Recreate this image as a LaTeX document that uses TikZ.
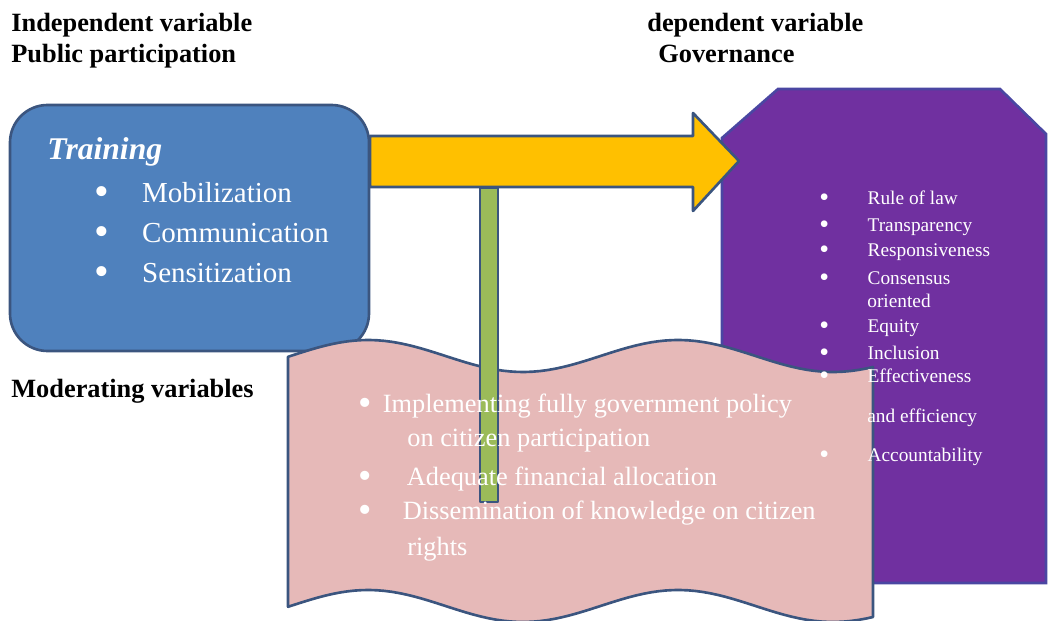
\documentclass[tikz,border=0pt]{standalone}
\usepackage{fontspec}
\setmainfont{Liberation Serif}
\usepackage{graphicx}
\usepackage[HTML]{xcolor}
\usepackage{tikz}
\usetikzlibrary{positioning}

\definecolor{boxblue}{HTML}{4F81BD}
\definecolor{arrowyellow}{HTML}{FFC000}
\definecolor{bargreen}{HTML}{9BBB59}
\definecolor{govpurple}{HTML}{7030A0}
\definecolor{wavepink}{HTML}{E6B9B8}
\definecolor{edgeblue}{HTML}{3B557F}
\definecolor{purpleedge}{HTML}{4A46A2}

\newcommand{\itembullet}[1]{\makebox[#1][l]{\raisebox{-0.08em}{\scalebox{1.45}{\textbullet}}}}

\tikzset{
    heading/.style={anchor=base west, inner sep=0pt, font=\fontsize{15}{18}\selectfont\bfseries},
    trainitem/.style={anchor=base west, inner sep=0pt, text=white, font=\fontsize{16.5}{19}\selectfont},
    waveitem/.style={anchor=base west, inner sep=0pt, text=white, font=\fontsize{15}{18}\selectfont},
    govitem/.style={anchor=base west, inner sep=0pt, text=white, font=\fontsize{11}{13}\selectfont},
    shapeline/.style={draw=edgeblue, line width=1.5pt, line join=round}
}

\begin{document}
\begin{tikzpicture}[x=0.02cm, y=-0.02cm]
    \useasboundingbox (0,0) rectangle (1049,621);

    % Draw shapes
    \draw[draw=purpleedge, line width=1.5pt, fill=govpurple]
        (778,89) -- (1000,89) -- (1046,134) -- (1046,583) -- (722,583) -- (722,138) -- cycle;
    \draw[shapeline, fill=boxblue, rounded corners=0.75cm] (10,105) rectangle (369,351);
    \draw[shapeline, fill=wavepink]
        plot[domain=288:873, samples=80] (\x, {356-16*sin(90+1.1613*(\x-368))})
        -- plot[domain=873:288, samples=80] (\x, {606-16*sin(90+1.1613*(\x-368))}) -- cycle;
    \draw[shapeline, fill=arrowyellow]
        (370,136) -- (693,136) -- (693,113) -- (739,161) -- (693,211) -- (693,187) -- (370,187) -- cycle;
    \draw[shapeline, line width=1.2pt, fill=bargreen] (480,188) rectangle (498,502);

    % Define nodes
    \node[heading] (indep) at (11,32) {Independent variable};
    \node[heading] (public) at (11,63) {Public participation};
    \node[heading] (dep) at (647,32) {dependent variable};
    \node[heading] (gov) at (658,63) {Governance};
    \node[heading] (moder) at (11,398) {Moderating variables};

    \node[anchor=base west, inner sep=0pt, text=white, font=\fontsize{18}{21}\selectfont\bfseries\itshape] (train) at (47,160) {Training};
    \node[trainitem] (mob) at (94,203) {\itembullet{27.2pt}Mobilization};
    \node[trainitem] (comm) at (94,243) {\itembullet{27.2pt}Communication};
    \node[trainitem] (sens) at (94,283) {\itembullet{27.2pt}Sensitization};

    \node[waveitem] (policy) at (358,413) {\itembullet{14pt}Implementing fully government policy};
    \node[waveitem] (policyb) at (407,447) {on citizen participation};
    \node[waveitem] (finance) at (358,486) {\itembullet{27.6pt}Adequate financial allocation};
    \node[waveitem] (know) at (358,520) {\itembullet{25.3pt}Dissemination of knowledge on citizen};
    \node[waveitem] (knowb) at (407,556) {rights};

    \node[govitem] (law) at (819,205) {\itembullet{27.5pt}Rule of law};
    \node[govitem] (transp) at (819,232) {\itembullet{27.5pt}Transparency};
    \node[govitem] (resp) at (819,257) {\itembullet{27.5pt}Responsiveness};
    \node[govitem] (cons) at (819,285) {\itembullet{27.5pt}Consensus};
    \node[govitem] (consb) at (867,308) {oriented};
    \node[govitem] (equity) at (819,333) {\itembullet{27.5pt}Equity};
    \node[govitem] (incl) at (819,360) {\itembullet{27.5pt}Inclusion};
    \node[govitem] (effect) at (819,383) {\itembullet{27.5pt}Effectiveness};
    \node[govitem] (effectb) at (867,423) {and efficiency};
    \node[govitem] (account) at (819,462) {\itembullet{27.5pt}Accountability};
\end{tikzpicture}
\end{document}
